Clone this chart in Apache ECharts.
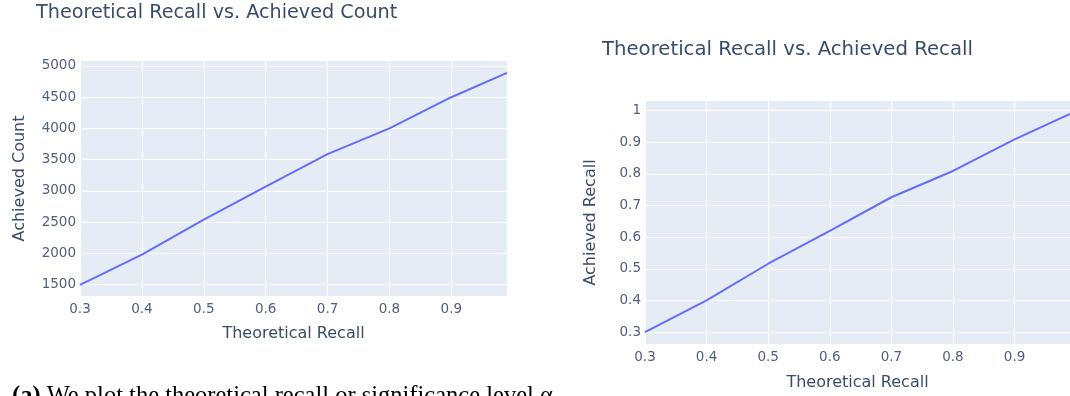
<!DOCTYPE html>
<html>
<head>
<meta charset="utf-8">
<script src="https://cdn.jsdelivr.net/npm/echarts@6/dist/echarts.min.js"></script>
<style>
html,body{margin:0;padding:0;background:#fff;}
#main{width:1070px;height:396px;}
</style>
</head>
<body>
<div id="main"></div>
<script>
// ---- data ----
const theoreticalRecall = [0.3, 0.4, 0.5, 0.6, 0.7, 0.8, 0.9, 0.99];
const achievedCount = [1495, 1980, 2540, 3070, 3590, 4000, 4500, 4890];
const achievedRecall = [0.300, 0.400, 0.516, 0.620, 0.726, 0.809, 0.909, 0.989];
const xTicks = [0.3, 0.4, 0.5, 0.6, 0.7, 0.8, 0.9];
const countTicks = [1500, 2000, 2500, 3000, 3500, 4000, 4500, 5000];
const recallTicks = [0.3, 0.4, 0.5, 0.6, 0.7, 0.8, 0.9, 1];

const FONT = 'DejaVu Sans';
const TXT = '#3a4c6a';
const TICK = '#4f5f7c';

function xAxis(gridIndex, nameGap) {
  return {
    type: 'value', gridIndex: gridIndex, min: 0.3, max: 0.99,
    name: 'Theoretical Recall', nameLocation: 'middle', nameGap: nameGap,
    nameTextStyle: { color: TXT, fontFamily: FONT, fontSize: 16 },
    axisLine: { show: false },
    axisTick: { show: false, customValues: xTicks },
    axisLabel: { customValues: xTicks, color: TICK, fontFamily: FONT, fontSize: 13.5, margin: 6,
      formatter: v => String(Math.round(v * 10) / 10) },
    splitLine: { show: true, lineStyle: { color: '#ffffff', width: 1 } }
  };
}
function yAxis(gridIndex, min, max, ticks, name, nameGap) {
  return {
    type: 'value', gridIndex: gridIndex, min: min, max: max,
    name: name, nameLocation: 'middle', nameGap: nameGap,
    nameTextStyle: { color: TXT, fontFamily: FONT, fontSize: 16 },
    axisLine: { show: false },
    axisTick: { show: false, customValues: ticks },
    axisLabel: { customValues: ticks, color: TICK, fontFamily: FONT, fontSize: 13.5, margin: 4,
      formatter: v => String(Math.round(v * 100) / 100) },
    splitLine: { show: true, lineStyle: { color: '#ffffff', width: 1 } }
  };
}

const chart = echarts.init(document.getElementById('main'), null, { renderer: 'canvas' });
chart.setOption({
  animation: false,
  backgroundColor: '#ffffff',
  title: [
    { text: 'Theoretical Recall vs. Achieved Count', left: 36, top: 4, padding: 0,
      textStyle: { color: TXT, fontFamily: FONT, fontSize: 19.2, fontWeight: 'normal' } },
    { text: 'Theoretical Recall vs. Achieved Recall', left: 602, top: 39.5, padding: 0,
      textStyle: { color: TXT, fontFamily: FONT, fontSize: 19.7, fontWeight: 'normal' } }
  ],
  grid: [
    { left: 80, top: 61, width: 427, height: 235, show: true, backgroundColor: '#E5ECF6', borderWidth: 0 },
    { left: 645, top: 101, width: 425, height: 245, show: true, backgroundColor: '#E5ECF6', borderWidth: 0 }
  ],
  xAxis: [ xAxis(0, 30), xAxis(1, 31) ],
  yAxis: [
    yAxis(0, 1317, 5080, countTicks, 'Achieved Count', 52),
    yAxis(1, 0.2625, 1.03, recallTicks, 'Achieved Recall', 46)
  ],
  series: [
    { type: 'line', xAxisIndex: 0, yAxisIndex: 0, showSymbol: false, symbol: 'none',
      data: theoreticalRecall.map((x, i) => [x, achievedCount[i]]),
      lineStyle: { color: '#636efa', width: 2 }, itemStyle: { color: '#636efa' } },
    { type: 'line', xAxisIndex: 1, yAxisIndex: 1, showSymbol: false, symbol: 'none',
      data: theoreticalRecall.map((x, i) => [x, achievedRecall[i]]),
      lineStyle: { color: '#636efa', width: 2 }, itemStyle: { color: '#636efa' } }
  ],
  graphic: [
    { type: 'text', left: 12, top: 384,
      style: {
        text: '{b|(a)} We plot the theoretical recall or significance level α',
        fill: '#000', font: '24.5px "Liberation Serif"',
        rich: { b: { fontWeight: 'bold', fontFamily: 'Liberation Serif', fontSize: 24.5, fill: '#000' } }
      } }
  ]
});
</script>
</body>
</html>
